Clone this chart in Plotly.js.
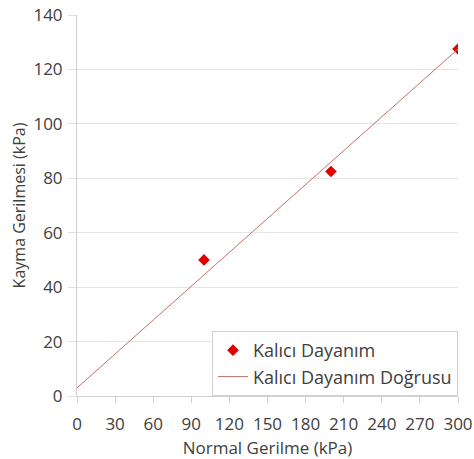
<!DOCTYPE html>
<html>
<head>
<meta charset="utf-8">
<script src="https://cdn.plot.ly/plotly-3.0.1.min.js"></script>
<style>html,body{margin:0;padding:0;background:#fff;}#chart{width:474px;height:459px;}</style>
</head>
<body>
<div id="chart"></div>
<script>
const normalStress = [100, 200, 300];
const shearStress = [50, 82.5, 127.5];
const lineX = [0, 300];
const lineY = [3, 127.5];
const xTicks = [0, 30, 60, 90, 120, 150, 180, 210, 240, 270, 300];
const yTicks = [0, 20, 40, 60, 80, 100, 120, 140];

const font = 'Open Sans, Noto Sans, sans-serif';
const txt = '#404040';
const data = [
  {x: normalStress, y: shearStress, mode: 'markers', type: 'scatter', name: 'Kalıcı Dayanım',
   marker: {symbol: 'diamond', size: 9, color: '#e00000'}},
  {x: lineX, y: lineY, mode: 'lines', type: 'scatter', name: 'Kalıcı Dayanım Doğrusu',
   line: {color: '#c0706c', width: 1}}
];
const layout = {
  width: 474, height: 459,
  margin: {l: 77, r: 16, t: 15, b: 63},
  paper_bgcolor: '#fff', plot_bgcolor: '#fff',
  font: {family: font, size: 17, color: txt},
  xaxis: {range: [0, 300], tickvals: xTicks, showgrid: false, zeroline: false,
    showline: true, linecolor: '#d0d0d0', ticks: 'outside', ticklen: 6, tickcolor: '#d0d0d0',
    ticklabelstandoff: 7,
    tickfont: {size: 17, color: txt},
    title: {text: 'Normal Gerilme (kPa)', font: {size: 17, color: txt}, standoff: 8}},
  yaxis: {range: [0, 140], tickvals: yTicks, showgrid: true, gridcolor: '#e4e4e4', zeroline: false,
    showline: true, linecolor: '#d0d0d0', ticks: 'outside', ticklen: 8, tickcolor: '#e0e0e0',
    ticklabelstandoff: 2,
    tickfont: {size: 17, color: txt},
    title: {text: 'Kayma Gerilmesi (kPa)', font: {size: 16, color: txt}, standoff: 3}},
  legend: {x: 1, y: 0, xanchor: 'right', yanchor: 'bottom', bgcolor: '#fff',
    bordercolor: '#d0d0d0', borderwidth: 1, font: {size: 18, color: txt},
    itemwidth: 30},
  showlegend: true
};
Plotly.newPlot('chart', data, layout, {displayModeBar: false, staticPlot: true});
</script>
</body>
</html>
